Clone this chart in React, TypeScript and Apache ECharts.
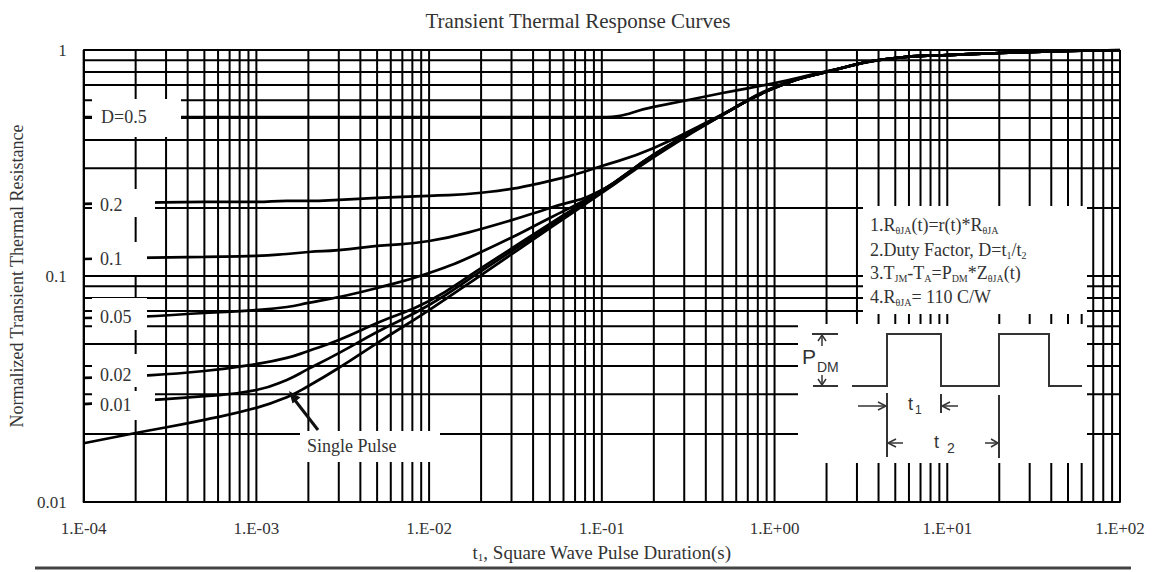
import React, { useEffect, useRef } from 'react';
import * as echarts from 'echarts';

// ---- data ----
const tValues = [1e-4, 2e-4, 5e-4, 1e-3, 1.5e-3, 2e-3, 3e-3, 5e-3, 1e-2, 2e-2, 5e-2, 1e-1, 2e-1, 5e-1, 1, 2, 5, 10, 20, 50, 100];
const dutyHalf = [0.505, 0.505, 0.505, 0.505, 0.505, 0.505, 0.505, 0.505, 0.505, 0.505, 0.505, 0.505, 0.56, 0.645, 0.714, 0.805, 0.922, 0.95, 0.97, 0.99, 1.0];
const dutyFifth = [0.2084, 0.2105, 0.2127, 0.2127, 0.2149, 0.2149, 0.2171, 0.2217, 0.2264, 0.2335, 0.2634, 0.3066, 0.3686, 0.5205, 0.686, 0.8, 0.922, 0.95, 0.97, 0.99, 1.0];
const dutyTenth = [0.1189, 0.1202, 0.1214, 0.1227, 0.1251, 0.1277, 0.1302, 0.1358, 0.1428, 0.1615, 0.2, 0.2402, 0.345, 0.518, 0.68, 0.8, 0.922, 0.95, 0.97, 0.99, 1.0];
const dutyFive = [0.0652, 0.0659, 0.0686, 0.0707, 0.0729, 0.076, 0.0807, 0.0885, 0.1031, 0.1277, 0.1806, 0.239, 0.344, 0.518, 0.68, 0.8, 0.922, 0.95, 0.97, 0.99, 1.0];
const dutyTwo = [0.0354, 0.0361, 0.038, 0.0408, 0.0434, 0.0466, 0.0521, 0.0619, 0.0775, 0.1084, 0.17, 0.238, 0.343, 0.517, 0.68, 0.8, 0.922, 0.95, 0.97, 0.99, 1.0];
const dutyOne = [0.0271, 0.028, 0.0294, 0.0313, 0.0347, 0.0388, 0.0456, 0.0565, 0.0744, 0.1052, 0.1664, 0.236, 0.342, 0.517, 0.68, 0.8, 0.922, 0.95, 0.97, 0.99, 1.0];
const singlePulse = [0.0182, 0.0202, 0.0231, 0.0261, 0.0291, 0.0326, 0.0392, 0.0505, 0.0707, 0.101, 0.163, 0.233, 0.336, 0.516, 0.679, 0.799, 0.922, 0.95, 0.97, 0.99, 1.0];

const curveNames = ['D=0.5', 'D=0.2', 'D=0.1', 'D=0.05', 'D=0.02', 'D=0.01', 'Single Pulse'];
const curves = [dutyHalf, dutyFifth, dutyTenth, dutyFive, dutyTwo, dutyOne, singlePulse];

const xTickLabels = ['1.E-04', '1.E-03', '1.E-02', '1.E-01', '1.E+00', '1.E+01', '1.E+02'];
const yTickLabels = ['0.01', '0.1', '1'];
const gridMantissas = [1, 2, 3, 4, 5, 6, 7, 8, 9];
const xDecades = [-4, -3, -2, -1, 0, 1];
const yDecades = [-2, -1];
const xMin = 1e-4;
const xMax = 100;
const yMin = 0.01;
const yMax = 1;

const curveLabels = ['D=0.5', '0.2', '0.1', '0.05', '0.02', '0.01'];
const notes = [
  '1.R{s|θJA}(t)=r(t)*R{s|θJA}',
  '2.Duty Factor, D=t{s|1}/t{s|2}',
  '3.T{s|JM}-T{s|A}=P{s|DM}*Z{s|θJA}(t)',
  '4.R{s|θJA}= 110 C/W',
];

const SERIF = '"Liberation Serif", "Times New Roman", serif';
const SANS = '"Liberation Sans", Arial, sans-serif';
const TEXT = '#333';

export default function App() {
  const ref = useRef<HTMLDivElement>(null);
  useEffect(() => {
    if (!ref.current) return;
    const chart = echarts.init(ref.current, undefined, { renderer: 'svg' });

    const xGrid: number[] = [];
    xDecades.forEach((e) => gridMantissas.forEach((m) => xGrid.push(Number((m * Math.pow(10, e)).toPrecision(3)))));
    xGrid.push(xMax);
    const yGrid: number[] = [];
    yDecades.forEach((e) => gridMantissas.forEach((m) => yGrid.push(Number((m * Math.pow(10, e)).toPrecision(3)))));
    yGrid.push(yMax);

    const white = (x: number, y: number, w: number, h: number) => ({
      type: 'rect', z: 100, silent: true, shape: { x, y, width: w, height: h }, style: { fill: '#fff' },
    });
    const seg = (x1: number, y1: number, x2: number, y2: number, w = 2, c = '#333') => ({
      type: 'line', z: 110, silent: true, shape: { x1, y1, x2, y2 }, style: { stroke: c, lineWidth: w },
    });
    const poly = (pts: number[][], w = 2, c = '#333') => ({
      type: 'polyline', z: 110, silent: true, shape: { points: pts }, style: { stroke: c, lineWidth: w, fill: null },
    });
    const txt = (text: string, x: number, y: number, size: number, family = SERIF, extra: any = {}) => ({
      type: 'text', z: 120, silent: true, x, y,
      style: { text, fill: TEXT, fontSize: size, fontFamily: family, verticalAlign: 'middle', align: 'left', ...extra },
    });

    const labelBoxes = [
      [92, 99, 89, 38],
      [92, 189, 63, 28],
      [92, 242, 55, 33],
      [92, 298, 55, 32],
      [92, 354, 55, 33],
      [92, 391, 63, 29],
    ];
    const labelY = [117, 205, 259, 317, 375, 405];

    const graphics: any[] = [];
    labelBoxes.forEach((b) => graphics.push(white(b[0], b[1], b[2], b[3])));
    curveLabels.forEach((l, i) => graphics.push(txt(l, i === 0 ? 101 : 100, labelY[i], 18)));
    // single pulse label
    graphics.push(white(300, 431, 140, 31));
    graphics.push(txt('Single Pulse', 307, 446, 18));
    graphics.push(seg(318, 430, 294, 399, 3, '#111'));
    graphics.push({ type: 'polygon', z: 110, silent: true, shape: { points: [[289, 391], [300.5, 397.5], [292.5, 403.5]] }, style: { fill: '#111' } });
    // notes box
    graphics.push(white(863, 206, 224, 108));
    notes.forEach((n, i) =>
      graphics.push(txt(n, 870, [225, 250, 273, 297][i], 18, SERIF, {
        lineHeight: 20,
        rich: { s: { fontSize: 10, fontFamily: SERIF, fill: TEXT, lineHeight: 12, verticalAlign: 'bottom' } },
      }))
    );
    // pulse diagram box
    graphics.push(white(798, 324, 289, 139));
    graphics.push(poly([[852, 386], [887, 386], [887, 334], [941, 334], [941, 386], [999, 386], [999, 334], [1049, 334], [1049, 386], [1082, 386]], 2));
    graphics.push(seg(812, 334, 838, 334, 2));
    graphics.push(seg(813, 386, 838, 386, 2));
    graphics.push(seg(822, 336, 822, 346, 1.5));
    graphics.push(poly([[818, 341], [822, 335], [826, 341]], 1.5));
    graphics.push(seg(822, 375, 822, 385, 1.5));
    graphics.push(poly([[818, 379], [822, 385], [826, 379]], 1.5));
    graphics.push(txt('P', 802, 356, 21, SANS));
    graphics.push(txt('DM', 817, 367, 14, SANS));
    graphics.push(seg(858, 406, 885, 406, 1.5));
    graphics.push(poly([[878, 402], [886, 406], [878, 410]], 1.5));
    graphics.push(seg(958, 406, 943, 406, 1.5));
    graphics.push(poly([[950, 402], [942, 406], [950, 410]], 1.5));
    graphics.push(seg(903, 443, 889, 443, 1.5));
    graphics.push(poly([[896, 439], [888, 443], [896, 447]], 1.5));
    graphics.push(seg(985, 443, 997, 443, 1.5));
    graphics.push(poly([[991, 439], [998, 443], [991, 447]], 1.5));
    graphics.push(seg(887, 393, 887, 457, 2));
    graphics.push(seg(941, 394, 941, 413, 2));
    graphics.push(seg(999, 395, 999, 458, 2));
    graphics.push(txt('t', 908, 404, 18, SANS));
    graphics.push(txt('1', 915, 410, 12, SANS));
    graphics.push(txt('t', 934, 442, 18, SANS));
    graphics.push(txt('2', 947, 448, 14, SANS));
    // bottom rule
    graphics.push(seg(35, 568, 1131, 568, 3, '#444'));

    const gridStyle = { color: '#000', width: 2 };
    const gridSeries: any[] = [
      ...xGrid.map((v) => ({
        type: 'line', data: [[v, yMin], [v, yMax]], showSymbol: false, silent: true, z: 2,
        lineStyle: gridStyle, emphasis: { disabled: true },
      })),
      ...yGrid.map((v) => ({
        type: 'line', data: [[xMin, v], [xMax, v]], showSymbol: false, silent: true, z: 2,
        lineStyle: gridStyle, emphasis: { disabled: true },
      })),
    ];

    const curveSeries: any[] = curves.map((arr, idx) => ({
      name: curveNames[idx],
      type: 'line',
      data: tValues.map((t, i) => [t, arr[i]]),
      showSymbol: false,
      smooth: 0.5,
      silent: true,
      z: 3,
      emphasis: { disabled: true },
      lineStyle: { color: '#000', width: 2.7 },
    }));

    chart.setOption({
      animation: false,
      backgroundColor: '#fff',
      title: {
        text: 'Transient Thermal Response Curves',
        left: 'center',
        top: 5,
        textStyle: { fontFamily: SERIF, fontSize: 21, fontWeight: 'normal', color: TEXT },
      },
      grid: { left: 80, top: 50, width: 1040, height: 452 },
      xAxis: {
        type: 'log',
        logBase: 10,
        min: xMin,
        max: xMax,
        name: '{a|t}{s|1}{a|, Square Wave Pulse Duration(s)}',
        nameLocation: 'middle',
        nameGap: 38,
        nameTextStyle: {
          rich: {
            a: { fontFamily: SERIF, fontSize: 19, color: TEXT, lineHeight: 22, verticalAlign: 'bottom' },
            s: { fontFamily: SERIF, fontSize: 11, color: TEXT, lineHeight: 14, verticalAlign: 'bottom' },
          },
        },
        axisLine: { show: true, lineStyle: { color: '#000', width: 2 } },
        axisTick: { show: false },
        splitLine: { show: false },
        axisLabel: {
          margin: 18,
          fontFamily: SERIF,
          fontSize: 17,
          color: TEXT,
          formatter: (v: number) => xTickLabels[Math.round(Math.log10(v)) + 4],
        },
      },
      yAxis: {
        type: 'log',
        logBase: 10,
        min: yMin,
        max: yMax,
        name: 'Normalized Transient Thermal Resistance',
        nameLocation: 'middle',
        nameGap: 55,
        nameTextStyle: { fontFamily: SERIF, fontSize: 18, color: TEXT },
        axisLine: { show: true, lineStyle: { color: '#000', width: 2 } },
        axisTick: { show: false },
        splitLine: { show: false },
        axisLabel: {
          margin: 17,
          fontFamily: SERIF,
          fontSize: 17,
          color: TEXT,
          formatter: (v: number) => yTickLabels[Math.round(Math.log10(v)) + 2],
        },
      },
      series: [...gridSeries, ...curveSeries],
      graphic: { elements: graphics },
    });

    return () => chart.dispose();
  }, []);

  return (
    <div
      ref={ref}
      style={{ position: 'fixed', left: 0, top: 0, width: 1156, height: 572, background: '#fff' }}
    />
  );
}
